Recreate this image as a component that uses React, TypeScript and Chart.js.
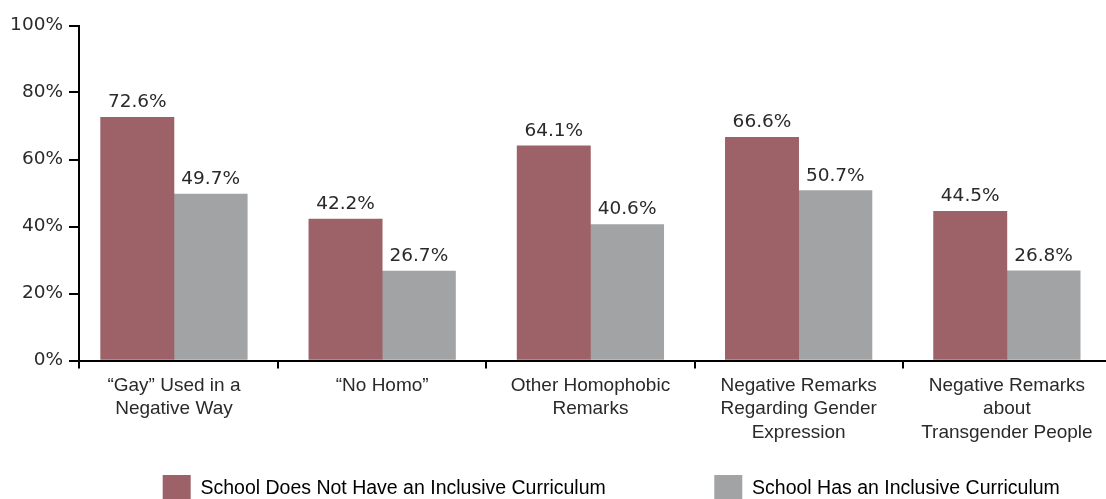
import React, { useEffect, useRef } from 'react';
import { Chart, registerables } from 'chart.js';

Chart.register(...registerables);

// ---------- data ----------
const categories: string[][] = [
  ['“Gay” Used in a', 'Negative Way'],
  ['“No Homo”'],
  ['Other Homophobic', 'Remarks'],
  ['Negative Remarks', 'Regarding Gender', 'Expression'],
  ['Negative Remarks', 'about', 'Transgender People'],
];
const seriesNames = [
  'School Does Not Have an Inclusive Curriculum',
  'School Has an Inclusive Curriculum',
];
const noInclusiveCurriculum = [72.6, 42.2, 64.1, 66.6, 44.5];
const inclusiveCurriculum = [49.7, 26.7, 40.6, 50.7, 26.8];
const yTickValues = [0, 20, 40, 60, 80, 100];

// ---------- styles ----------
const RED = '#9d6168';
const GRAY = '#a2a3a5';
const TEXT = '#2a2a2a';
const X_MIN = -0.456;
const CANVAS_W = 1140;
const CANVAS_H = 513;

const valueLabels = {
  id: 'valueLabels',
  afterDatasetsDraw(chart: any) {
    const { ctx } = chart;
    ctx.save();
    ctx.font = '18.5px "DejaVu Sans"';
    ctx.fillStyle = TEXT;
    ctx.textAlign = 'center';
    ctx.textBaseline = 'alphabetic';
    chart.data.datasets.forEach((ds: any, di: number) => {
      const meta = chart.getDatasetMeta(di);
      meta.data.forEach((bar: any, i: number) => {
        const v = ds.data[i].y;
        ctx.fillText(v.toFixed(1) + '%', bar.x, bar.y - 10);
      });
    });
    ctx.restore();
  },
};

const spacer = (n: number) => ({
  text: ' '.repeat(n),
  fillStyle: 'rgba(0,0,0,0)',
  strokeStyle: 'rgba(0,0,0,0)',
  lineWidth: 0,
  hidden: false,
});

export default function App() {
  const ref = useRef<HTMLCanvasElement>(null);

  useEffect(() => {
    if (!ref.current) return;
    const chart = new Chart(ref.current, {
      type: 'bar',
      data: {
        datasets: [
          {
            label: seriesNames[0],
            data: noInclusiveCurriculum.map((v, i) => ({ x: i, y: v })),
            backgroundColor: RED,
            barThickness: 73.3,
          },
          {
            label: seriesNames[1],
            data: inclusiveCurriculum.map((v, i) => ({ x: i, y: v })),
            backgroundColor: GRAY,
            barThickness: 73.3,
          },
        ],
      },
      options: {
        responsive: false,
        animation: false,
        devicePixelRatio: 1,
        layout: { padding: { top: 25.5, left: 0, right: 29, bottom: 0 } },
        scales: {
          x: {
            type: 'linear',
            offset: false,
            min: X_MIN,
            max: categories.length - 0.5,
            bounds: 'data',
            afterBuildTicks: (scale: any) => {
              const t: { value: number }[] = [{ value: X_MIN }];
              categories.forEach((_, i) => {
                t.push({ value: i });
                t.push({ value: i + 0.5 });
              });
              scale.ticks = t;
            },
            afterFit: (scale: any) => {
              scale.height = 103.5;
            },
            ticks: {
              autoSkip: false,
              maxRotation: 0,
              minRotation: 0,
              padding: 5,
              color: TEXT,
              font: { family: 'Liberation Sans', size: 19, lineHeight: 1.24 },
              callback: (v: any) => (Number.isInteger(v) ? categories[v] : ''),
            },
            grid: {
              offset: false,
              drawOnChartArea: false,
              drawTicks: true,
              tickLength: 8,
              lineWidth: 2,
              color: '#000',
              tickColor: (c: any) =>
                c.tick && Number.isInteger(c.tick.value) ? 'rgba(0,0,0,0)' : '#000',
            },
            border: { display: true, color: '#000', width: 2 },
          },
          y: {
            min: 0,
            max: 100,
            afterBuildTicks: (scale: any) => {
              scale.ticks = yTickValues.map((v) => ({ value: v }));
            },
            afterFit: (scale: any) => {
              scale.width = 79;
            },
            ticks: {
              padding: 6,
              color: TEXT,
              font: { family: 'DejaVu Sans', size: 18.5 },
              callback: (v: any) => v + '%',
            },
            grid: {
              drawOnChartArea: false,
              drawTicks: true,
              tickLength: 10,
              lineWidth: 2,
              color: '#000',
            },
            border: { display: true, color: '#000', width: 2 },
          },
        },
        plugins: {
          title: { display: false },
          tooltip: { enabled: false },
          legend: {
            position: 'bottom',
            align: 'start',
            onClick: () => {},
            labels: {
              boxWidth: 28,
              boxHeight: 28,
              padding: 11,
              color: TEXT,
              font: { family: 'Liberation Sans', size: 19.5 },
              generateLabels: () => [
                spacer(19),
                { text: seriesNames[0], fillStyle: RED, strokeStyle: RED, lineWidth: 0, hidden: false, datasetIndex: 0 },
                spacer(9),
                { text: seriesNames[1], fillStyle: GRAY, strokeStyle: GRAY, lineWidth: 0, hidden: false, datasetIndex: 1 },
              ],
            },
          },
        },
      } as any,
      plugins: [valueLabels],
    });
    return () => chart.destroy();
  }, []);

  return (
    <div
      style={{
        position: 'fixed',
        left: 0,
        top: 0,
        width: 1106,
        height: 499,
        overflow: 'hidden',
        background: '#fff',
      }}
    >
      <canvas ref={ref} width={CANVAS_W} height={CANVAS_H} style={{ display: 'block' }} />
    </div>
  );
}
